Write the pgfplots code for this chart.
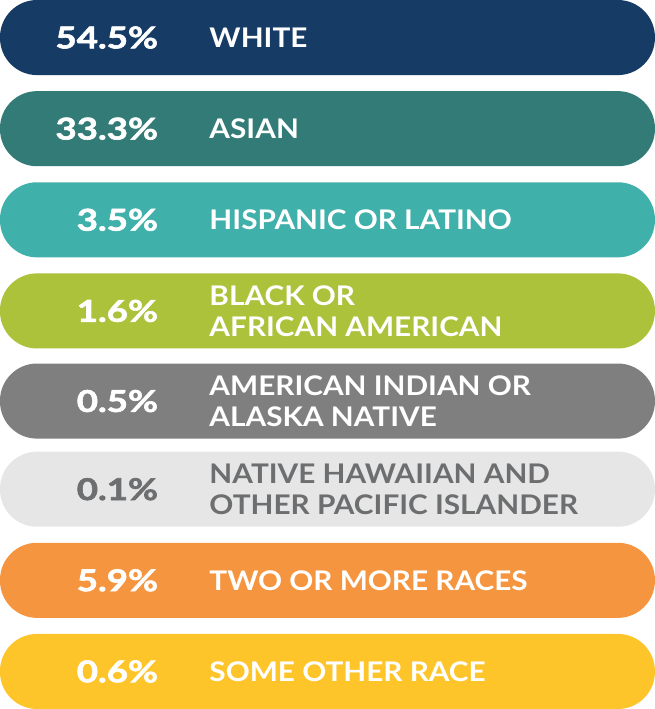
\documentclass[border=0pt]{standalone}
\usepackage{pgfplots}
\pgfplotsset{compat=1.18}
\usepackage{fontspec}
\setmainfont{Lato}
\newfontfamily\labfont[FakeStretch=1.1]{Lato}
\newfontfamily\pctfont[FakeStretch=1.22, FakeBold=2]{Lato}
\definecolor{c1}{HTML}{163C66}
\definecolor{c2}{HTML}{327B76}
\definecolor{c3}{HTML}{40B0AA}
\definecolor{c4}{HTML}{ABC23A}
\definecolor{c5}{HTML}{7F7F7F}
\definecolor{c6}{HTML}{E6E6E6}
\definecolor{c7}{HTML}{F6953F}
\definecolor{c8}{HTML}{FEC52A}
\definecolor{tgray}{HTML}{6D6E70}
\begin{document}
\begin{tikzpicture}
\begin{axis}[
  width=654pt, height=709pt, scale only axis,
  xmin=0, xmax=654, ymin=0, ymax=709, y dir=reverse,
  hide axis, clip=false,
  xbar, bar width=75, bar shift=0pt,
]
\addplot[fill=c1, draw=none, rounded corners=37pt] coordinates {(654,38.5)};
\addplot[fill=c2, draw=none, rounded corners=37pt] coordinates {(654,129.5)};
\addplot[fill=c3, draw=none, rounded corners=37pt] coordinates {(654,220.5)};
\addplot[fill=c4, draw=none, rounded corners=37pt] coordinates {(654,311.5)};
\addplot[fill=c5, draw=none, rounded corners=37pt] coordinates {(654,401.5)};
\addplot[fill=c6, draw=none, rounded corners=37pt] coordinates {(654,489.5)};
\addplot[fill=c7, draw=none, rounded corners=37pt] coordinates {(654,580.5)};
\addplot[fill=c8, draw=none, rounded corners=37pt] coordinates {(654,671.5)};

\tikzset{pct/.style={anchor=east, font=\pctfont\fontsize{30}{30}\selectfont\bfseries, text=white, inner sep=0pt},
         lab/.style={anchor=west, font=\labfont\fontsize{27}{31}\selectfont\bfseries, text=white, inner sep=0pt, align=left}}
\node[pct] at (axis cs:158,38.5) {54.5\%};
\node[pct] at (axis cs:158,129.5) {33.3\%};
\node[pct] at (axis cs:158,220.5) {3.5\%};
\node[pct] at (axis cs:158,311.5) {1.6\%};
\node[pct] at (axis cs:158,401.5) {0.5\%};
\node[pct, text=tgray] at (axis cs:158,489.5) {0.1\%};
\node[pct] at (axis cs:158,580.5) {5.9\%};
\node[pct] at (axis cs:158,671.5) {0.6\%};

\node[lab] at (axis cs:209,38.5) {WHITE};
\node[lab] at (axis cs:209,129.5) {ASIAN};
\node[lab] at (axis cs:209,220.5) {HISPANIC OR LATINO};
\node[lab] at (axis cs:209,311.5) {BLACK OR\\AFRICAN AMERICAN};
\node[lab] at (axis cs:209,401.5) {AMERICAN INDIAN OR\\ALASKA NATIVE};
\node[lab, text=tgray] at (axis cs:209,489.5) {NATIVE HAWAIIAN AND\\OTHER PACIFIC ISLANDER};
\node[lab] at (axis cs:209,580.5) {TWO OR MORE RACES};
\node[lab] at (axis cs:209,671.5) {SOME OTHER RACE};
\end{axis}
\end{tikzpicture}
\end{document}
